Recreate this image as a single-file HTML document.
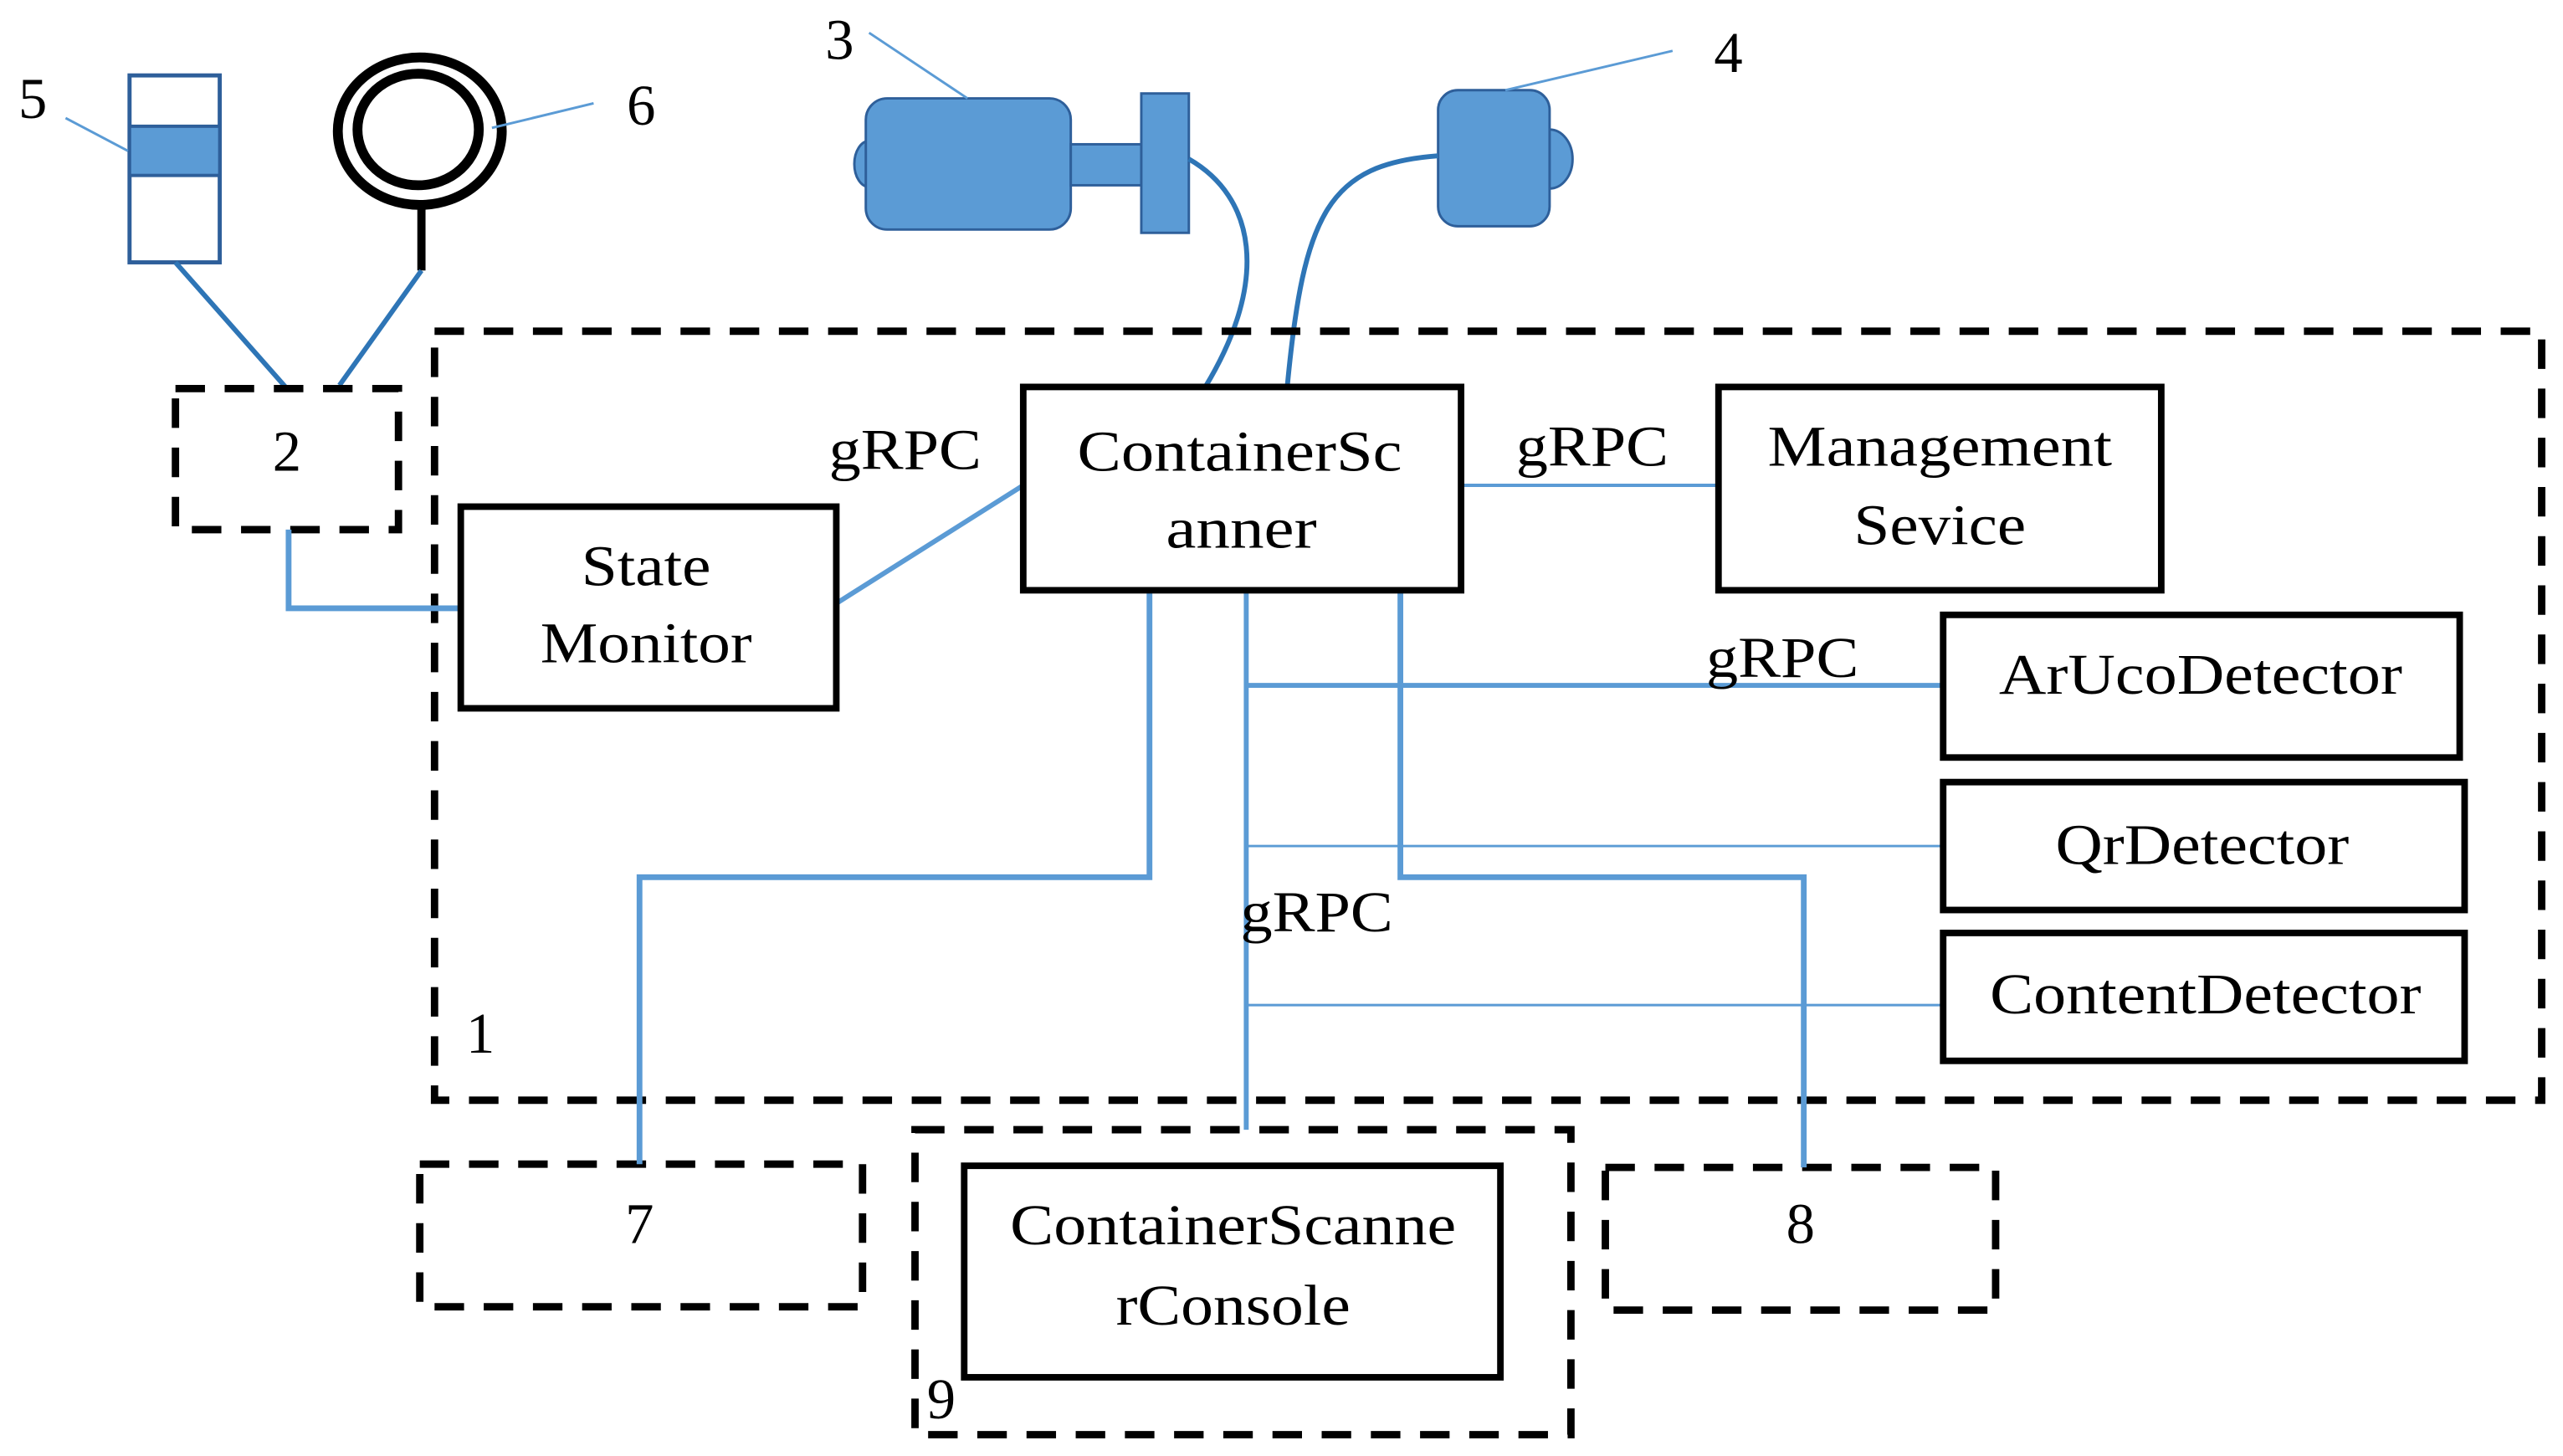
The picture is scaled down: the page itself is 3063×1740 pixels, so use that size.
<!DOCTYPE html>
<html><head><meta charset="utf-8"><style>html,body{margin:0;padding:0;background:#fff}svg{display:block}</style></head>
<body>
<svg width="3063" height="1740" viewBox="0 0 1563 888" preserveAspectRatio="none" xmlns="http://www.w3.org/2000/svg">
<rect width="1563" height="888" fill="#fff"/>
<g font-family="Liberation Serif, serif" font-size="35" fill="#000" text-anchor="middle">
<!-- item 5 -->
<rect x="79" y="46" width="55" height="114" fill="#fff" stroke="#2e5f9a" stroke-width="2.5"/>
<rect x="79" y="77" width="55" height="30" fill="#5b9bd5" stroke="#2e5f9a" stroke-width="2"/>
<text x="20" y="72">5</text>
<line x1="40" y1="72" x2="78" y2="92" stroke="#5b9bd5" stroke-width="1.5"/>
<!-- item 6 -->
<ellipse cx="256" cy="80" rx="50" ry="45" fill="none" stroke="#000" stroke-width="6"/>
<ellipse cx="255" cy="79" rx="37" ry="34" fill="none" stroke="#000" stroke-width="6"/>
<line x1="257" y1="125" x2="257" y2="165" stroke="#000" stroke-width="5"/>
<text x="391" y="76">6</text>
<line x1="362" y1="63" x2="300" y2="78" stroke="#5b9bd5" stroke-width="1.5"/>
<path d="M107,160 L175,237" stroke="#2e75b6" stroke-width="3" fill="none"/>
<path d="M257,165 L207,235" stroke="#2e75b6" stroke-width="3" fill="none"/>
<!-- camera 3 -->
<ellipse cx="530" cy="100" rx="9" ry="14" fill="#5b9bd5" stroke="#2e5f9a" stroke-width="1.5"/>
<rect x="528" y="60" width="125" height="80" rx="13" fill="#5b9bd5" stroke="#2e5f9a" stroke-width="1.5"/>
<rect x="653" y="88" width="43" height="25" fill="#5b9bd5" stroke="#2e5f9a" stroke-width="1.5"/>
<rect x="696" y="57" width="29" height="85" fill="#5b9bd5" stroke="#2e5f9a" stroke-width="1.5"/>
<text x="512" y="36">3</text>
<line x1="530" y1="20" x2="590" y2="60" stroke="#5b9bd5" stroke-width="1.5"/>
<path d="M725,97 C765,120 775,170 735,236" stroke="#2e75b6" stroke-width="3" fill="none"/>
<!-- camera 4 -->
<ellipse cx="945" cy="97" rx="14" ry="18" fill="#5b9bd5" stroke="#2e5f9a" stroke-width="1.5"/>
<rect x="877" y="55" width="68" height="83" rx="12" fill="#5b9bd5" stroke="#2e5f9a" stroke-width="1.5"/>
<text x="1054" y="44">4</text>
<line x1="1020" y1="31" x2="918" y2="55" stroke="#5b9bd5" stroke-width="1.5"/>
<path d="M877,95 C810,100 795,130 785,236" stroke="#2e75b6" stroke-width="3" fill="none"/>
<!-- dashed boxes -->
<g fill="none" stroke="#000" stroke-width="4.5" stroke-dasharray="18,12">
<rect x="107" y="237" width="136" height="86"/>
<rect x="265" y="202" width="1285" height="469"/>
<rect x="256" y="710" width="270" height="87"/>
<rect x="558" y="689" width="400" height="186"/>
<rect x="979" y="712" width="238" height="87"/>
</g>
<text x="175" y="287">2</text>
<text x="293" y="642">1</text>
<text x="390" y="758">7</text>
<text x="1098" y="758">8</text>
<text x="574" y="865">9</text>
<!-- blue connectors -->
<g fill="none" stroke="#5b9bd5">
<path d="M176,323 V371 H281" stroke-width="3.5"/>
<path d="M510,368 L624,296" stroke-width="3"/>
<path d="M891,296 H1048" stroke-width="2"/>
<path d="M760,360 V689" stroke-width="3"/>
<path d="M760,418 H1185" stroke-width="3"/>
<path d="M760,516 H1185" stroke-width="1.5"/>
<path d="M760,613 H1185" stroke-width="1.5"/>
<path d="M701,360 V535 H390 V710" stroke-width="3.5"/>
<path d="M854,360 V535 H1100 V712" stroke-width="3.5"/>
</g>
<!-- solid boxes -->
<g fill="#fff" stroke="#000" stroke-width="4">
<rect x="281" y="309" width="229" height="123"/>
<rect x="624" y="236" width="267" height="124"/>
<rect x="1048" y="236" width="270" height="124"/>
<rect x="1185" y="375" width="315" height="87"/>
<rect x="1185" y="477" width="318" height="78"/>
<rect x="1185" y="569" width="318" height="78"/>
<rect x="588" y="711" width="327" height="129"/>
</g>
<g lengthAdjust="spacingAndGlyphs">
<text x="394" y="357" textLength="79" lengthAdjust="spacingAndGlyphs">State</text>
<text x="394" y="404" textLength="129" lengthAdjust="spacingAndGlyphs">Monitor</text>
<text x="756" y="287" textLength="198" lengthAdjust="spacingAndGlyphs">ContainerSc</text>
<text x="757" y="334" textLength="92" lengthAdjust="spacingAndGlyphs">anner</text>
<text x="1183" y="284" textLength="210" lengthAdjust="spacingAndGlyphs">Management</text>
<text x="1183" y="332" textLength="105" lengthAdjust="spacingAndGlyphs">Sevice</text>
<text x="1342" y="423" textLength="246" lengthAdjust="spacingAndGlyphs">ArUcoDetector</text>
<text x="1343" y="527" textLength="179" lengthAdjust="spacingAndGlyphs">QrDetector</text>
<text x="1345" y="618" textLength="263" lengthAdjust="spacingAndGlyphs">ContentDetector</text>
<text x="752" y="759" textLength="272" lengthAdjust="spacingAndGlyphs">ContainerScanne</text>
<text x="752" y="808" textLength="143" lengthAdjust="spacingAndGlyphs">rConsole</text>
<text x="552" y="286" textLength="93" lengthAdjust="spacingAndGlyphs">gRPC</text>
<text x="971" y="284" textLength="93" lengthAdjust="spacingAndGlyphs">gRPC</text>
<text x="1087" y="413" textLength="93" lengthAdjust="spacingAndGlyphs">gRPC</text>
<text x="803" y="568" textLength="93" lengthAdjust="spacingAndGlyphs">gRPC</text>
</g>
</g>
</svg>
</body></html>
